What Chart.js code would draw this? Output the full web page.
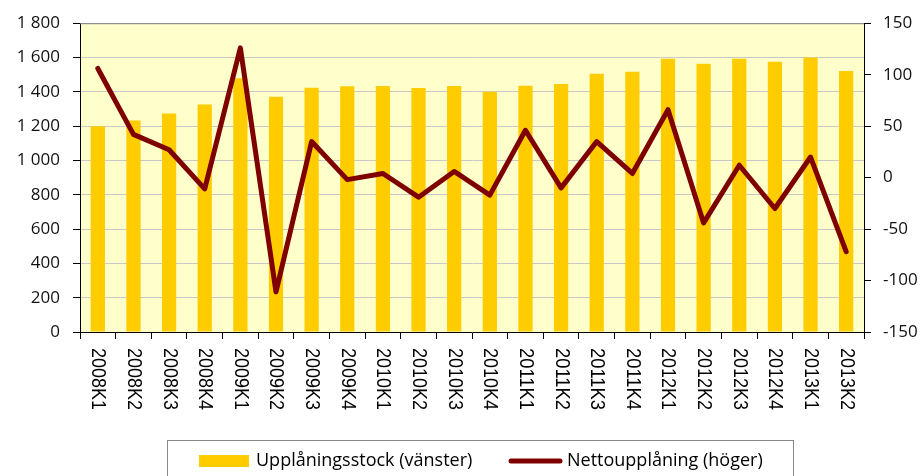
<!DOCTYPE html>
<html><head><meta charset="utf-8">
<script src="https://cdn.jsdelivr.net/npm/chart.js@4"></script>
<style>html,body{margin:0;padding:0;background:#fff}#wrap{width:923px;height:476px;position:relative}</style>
</head><body><div id="wrap"><canvas id="c" width="923" height="476"></canvas></div>
<script>
const categories = ['2008K1','2008K2','2008K3','2008K4','2009K1','2009K2','2009K3','2009K4','2010K1','2010K2','2010K3','2010K4','2011K1','2011K2','2011K3','2011K4','2012K1','2012K2','2012K3','2012K4','2013K1','2013K2'];
const upplaningsstock = [1200,1233,1273,1326,1479,1372,1424,1432,1434,1423,1434,1401,1436,1446,1506,1517,1593,1564,1593,1575,1600,1521];
const nettoupplaning = [106,42,27,-11,126,-111,35,-2,4,-19,6,-17,46,-10,35,4,66,-44,12,-30,20,-72];
const seriesNames = ['Upplåningsstock (vänster)','Nettoupplåning (höger)'];
const leftAxis = {min:0, max:1800, step:200};
const rightAxis = {min:-150, max:150, step:50};

const BAR = '#FFCC00', LINE = '#7F0000';
const tickFont = {family:'Open Sans', size:17};

function fmt(v){ return v >= 1000 ? Math.floor(v/1000) + ' ' + String(v%1000).padStart(3,'0') : String(v); }

const plugin = {
  id:'deco',
  beforeDraw(chart){
    const a = chart.chartArea, ctx = chart.ctx;
    ctx.save(); ctx.fillStyle = '#FFFFCC';
    ctx.fillRect(a.left, a.top, a.right-a.left, a.bottom-a.top); ctx.restore();
  },
  afterDraw(chart){
    const a = chart.chartArea, ctx = chart.ctx, xs = chart.scales.x;
    ctx.save();
    ctx.strokeStyle = '#808080'; ctx.lineWidth = 1;
    ctx.beginPath(); ctx.moveTo(a.left, a.top+0.5); ctx.lineTo(a.right, a.top+0.5); ctx.stroke();
    // x labels rotated, reading top to bottom
    ctx.fillStyle = '#000'; ctx.font = '20px "Liberation Sans"';
    ctx.textAlign = 'left'; ctx.textBaseline = 'middle';
    categories.forEach((lab,i)=>{
      const x = xs.getPixelForValue(i);
      ctx.save(); ctx.translate(x, a.bottom + 16); ctx.rotate(Math.PI/2);
      ctx.fillText(lab, 0, 0, 62); ctx.restore();
    });
    // legend
    ctx.strokeStyle = '#888'; ctx.lineWidth = 1;
    ctx.strokeRect(167.5, 440.5, 626, 40);
    ctx.fillStyle = BAR; ctx.fillRect(199, 455, 50, 12);
    ctx.fillStyle = '#000'; ctx.font = '18px "Open Sans"';
    ctx.fillText(seriesNames[0], 256, 461, 222);
    ctx.strokeStyle = LINE; ctx.lineWidth = 5; ctx.lineCap = 'round';
    ctx.beginPath(); ctx.moveTo(511, 461); ctx.lineTo(560, 461); ctx.stroke();
    ctx.fillText(seriesNames[1], 567, 461, 203);
    ctx.restore();
  }
};

new Chart(document.getElementById('c'), {
  type:'bar',
  data:{ labels: categories, datasets:[
    {type:'line', label:seriesNames[1], data:nettoupplaning, yAxisID:'y1', borderColor:LINE, backgroundColor:LINE,
     borderWidth:5, pointRadius:0, tension:0, borderCapStyle:'round', borderJoinStyle:'round', order:0},
    {type:'bar', label:seriesNames[0], data:upplaningsstock, yAxisID:'y', backgroundColor:BAR,
     barPercentage:0.4, categoryPercentage:1, order:1}
  ]},
  options:{
    responsive:false, animation:false, devicePixelRatio:1,
    layout:{padding:{top:22,left:0,right:0,bottom:0}},
    plugins:{legend:{display:false}, tooltip:{enabled:false}},
    scales:{
      x:{ offset:true,
          grid:{offset:true, drawOnChartArea:false, color:'#000', tickColor:'#000', tickLength:7},
          border:{color:'#000', width:1},
          ticks:{display:false},
          afterFit(s){ s.height = 144; } },
      y:{ position:'left', min:leftAxis.min, max:leftAxis.max,
          grid:{color:'#C8C8C8', tickColor:'#000', tickLength:7},
          border:{color:'#000', width:1},
          ticks:{stepSize:leftAxis.step, font:tickFont, color:'#111', padding:13, callback:v=>fmt(v)},
          afterFit(s){ s.width = 80; } },
      y1:{ position:'right', min:rightAxis.min, max:rightAxis.max,
          grid:{drawOnChartArea:false, tickColor:'#000', tickLength:7},
          border:{color:'#000', width:1},
          ticks:{stepSize:rightAxis.step, font:tickFont, color:'#111', padding:12},
          afterFit(s){ s.width = 59; } }
    }
  },
  plugins:[plugin]
});
</script></body></html>
